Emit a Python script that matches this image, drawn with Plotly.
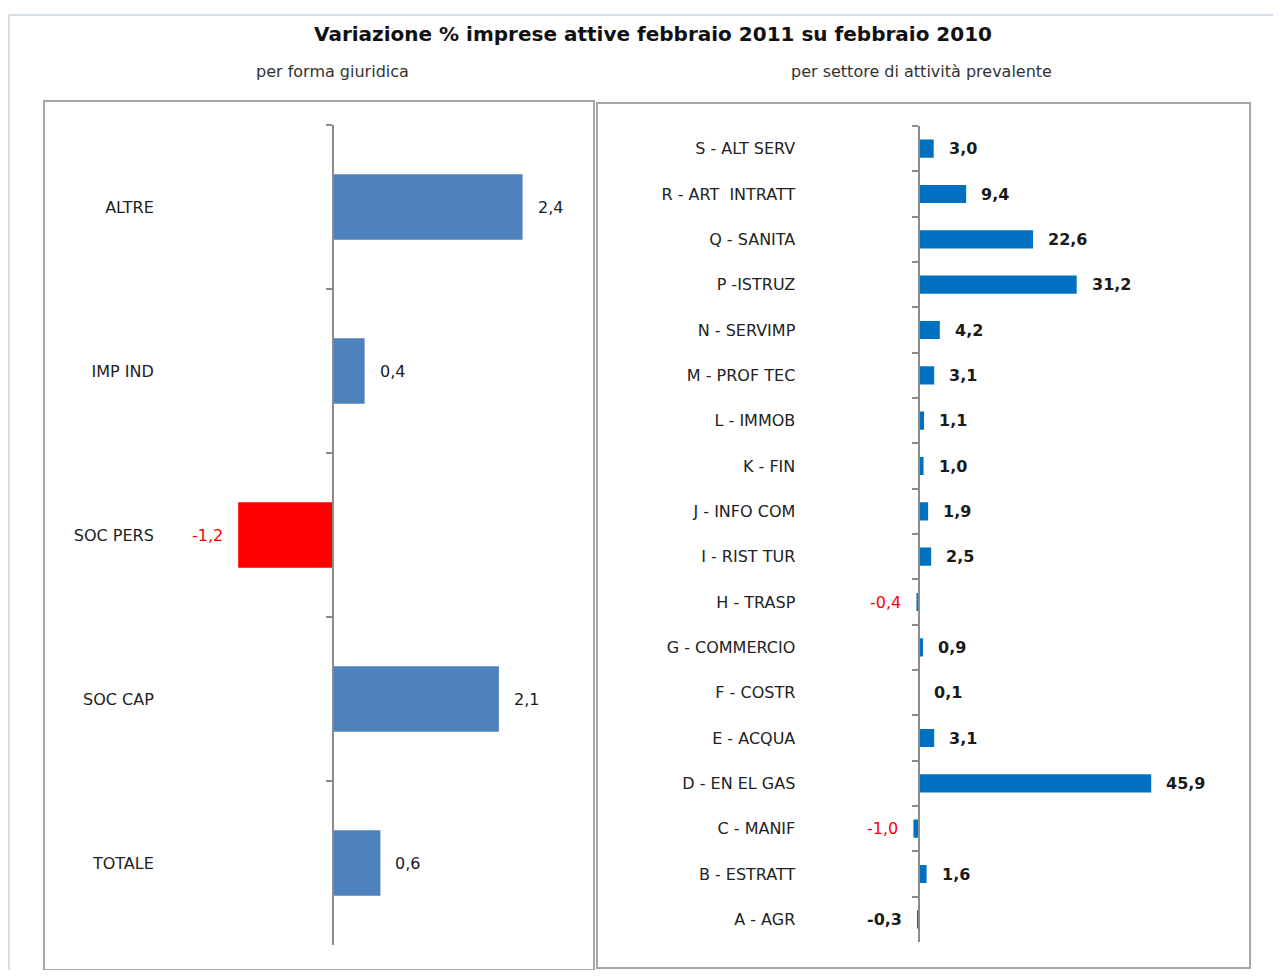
import plotly.graph_objects as go

# ---------------- data ----------------
forma_cat = ["ALTRE", "IMP IND", "SOC PERS", "SOC CAP", "TOTALE"]
forma_val = [2.4, 0.4, -1.2, 2.1, 0.6]

settore_cat = ["S - ALT SERV", "R - ART  INTRATT", "Q - SANITA", "P -ISTRUZ", "N - SERVIMP",
               "M - PROF TEC", "L - IMMOB", "K - FIN", "J - INFO COM", "I - RIST TUR",
               "H - TRASP", "G - COMMERCIO", "F - COSTR", "E - ACQUA", "D - EN EL GAS",
               "C - MANIF", "B - ESTRATT", "A - AGR"]
settore_val = [3.0, 9.4, 22.6, 31.2, 4.2, 3.1, 1.1, 1.0, 1.9, 2.5,
               -0.4, 0.9, 0.1, 3.1, 45.9, -1.0, 1.6, -0.3]
settore_red_labels = ["H - TRASP", "C - MANIF"]

title_text = "Variazione % imprese attive febbraio 2011 su febbraio 2010"
sub_left = "per forma giuridica"
sub_right = "per settore di attività prevalente"

# ---------------- layout helpers ----------------
OFF = 8            # default body margin of the page
W, H = 1281 - 2 * OFF, 978 - 2 * OFF
FONT = "DejaVu Sans"
FS = 16


def fx(px):
    return (px - OFF) / W


def fy(py):
    return 1 - (py - OFF) / H


def fmt(v):
    return f"{v:.1f}".replace(".", ",")


# left panel geometry
L_ZERO, L_SCALE = 333, 79.0
L_RANGE = [-1.5, 2.85]
L_DOM = [fx(L_ZERO + L_RANGE[0] * L_SCALE), fx(L_ZERO + L_RANGE[1] * L_SCALE)]
L_YDOM = [fy(945), fy(125)]

# right panel geometry
R_ZERO, R_SCALE = 918.5, 5.07
R_RANGE = [-6, 60]
R_DOM = [fx(R_ZERO + R_RANGE[0] * R_SCALE), fx(R_ZERO + R_RANGE[1] * R_SCALE)]
R_YDOM = [fy(942), fy(126)]

fig = go.Figure()

fig.add_trace(go.Bar(
    x=forma_val, y=forma_cat, orientation="h",
    marker=dict(color=["#FF0000" if v < 0 else "#4F81BD" for v in forma_val], line=dict(width=0)),
    width=0.4, xaxis="x", yaxis="y", hoverinfo="x+y", showlegend=False,
))
fig.add_trace(go.Bar(
    x=settore_val, y=settore_cat, orientation="h",
    marker=dict(color="#0070C0", line=dict(width=0)),
    width=0.4, xaxis="x2", yaxis="y2", hoverinfo="x+y", showlegend=False,
))

annotations = []
for c, v in zip(forma_cat, forma_val):
    annotations.append(dict(
        x=v, y=c, xref="x", yref="y", text=fmt(v), showarrow=False,
        xanchor="left" if v >= 0 else "right", xshift=13 if v >= 0 else -13,
        font=dict(family=FONT, size=FS, color="#FF0000" if v < 0 else "#1a1a1a"),
    ))
for c, v in zip(settore_cat, settore_val):
    red = c in settore_red_labels
    annotations.append(dict(
        x=v, y=c, xref="x2", yref="y2",
        text=fmt(v) if red else f"<b>{fmt(v)}</b>", showarrow=False,
        xanchor="left" if v >= 0 else "right", xshift=13 if v >= 0 else -13,
        font=dict(family=FONT, size=FS, color="#FF0000" if red else "#1a1a1a"),
    ))

annotations += [
    dict(x=fx(653), y=fy(34), xref="paper", yref="paper", text=f"<b>{title_text}</b>",
         showarrow=False, xanchor="center", yanchor="middle",
         font=dict(family=FONT, size=20, color="#111111")),
    dict(x=fx(332), y=fy(71), xref="paper", yref="paper", text=sub_left,
         showarrow=False, xanchor="center", yanchor="middle",
         font=dict(family=FONT, size=FS, color="#333333")),
    dict(x=fx(921), y=fy(71), xref="paper", yref="paper", text=sub_right,
         showarrow=False, xanchor="center", yanchor="middle",
         font=dict(family=FONT, size=FS, color="#333333")),
]

box_line = dict(color="#A6A6A6", width=2)
frame_line = dict(color="#D6DDEA", width=2)
shapes = [
    dict(type="rect", xref="paper", yref="paper", x0=fx(44), x1=fx(594), y0=fy(970), y1=fy(101),
         line=box_line, layer="below"),
    dict(type="rect", xref="paper", yref="paper", x0=fx(597), x1=fx(1250), y0=fy(968), y1=fy(103),
         line=box_line, layer="below"),
    dict(type="line", xref="paper", yref="paper", x0=fx(9), x1=fx(9), y0=fy(978), y1=fy(15),
         line=frame_line, layer="below"),
    dict(type="line", xref="paper", yref="paper", x0=fx(9), x1=fx(1281), y0=fy(15), y1=fy(15),
         line=frame_line, layer="below"),
]


def ypos(dom, rng):
    return dom[0] + (0 - rng[0]) / (rng[1] - rng[0]) * (dom[1] - dom[0])


axis_common = dict(
    type="category", autorange="reversed", showgrid=False, zeroline=False,
    showline=True, linecolor="#8C8C8C", linewidth=2,
    ticks="outside", ticklen=6, tickwidth=1.5, tickcolor="#8C8C8C", tickson="boundaries",
    anchor="free", fixedrange=True,
)

fig.update_layout(
    width=W, height=H, autosize=False,
    margin=dict(l=0, r=0, t=0, b=0),
    paper_bgcolor="white", plot_bgcolor="rgba(0,0,0,0)",
    barmode="overlay",
    xaxis=dict(domain=L_DOM, range=L_RANGE, visible=False, fixedrange=True, anchor="y"),
    yaxis=dict(domain=L_YDOM, position=ypos(L_DOM, L_RANGE), ticklabelstandoff=175,
               tickfont=dict(family=FONT, size=FS, color="#222222"), **axis_common),
    xaxis2=dict(domain=R_DOM, range=R_RANGE, visible=False, fixedrange=True, anchor="y2"),
    yaxis2=dict(domain=R_YDOM, position=ypos(R_DOM, R_RANGE), ticklabelstandoff=119,
                tickfont=dict(family=FONT, size=FS, color="#222222"), **axis_common),
    annotations=annotations,
    shapes=shapes,
    showlegend=False,
)

fig.write_html("out.html")
